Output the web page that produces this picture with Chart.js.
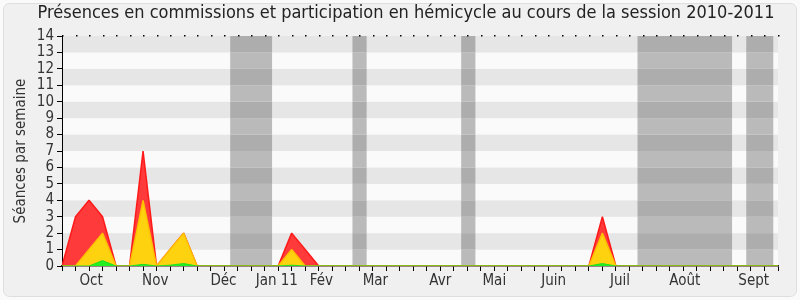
<!DOCTYPE html>
<html>
<head>
<meta charset="utf-8">
<script src="https://cdn.jsdelivr.net/npm/chart.js@4/dist/chart.umd.min.js"></script>
<style>
  html, body { margin: 0; padding: 0; background: #fafafa; }
  #wrap { width: 800px; height: 300px; }
</style>
</head>
<body>
<div id="wrap"><canvas id="chart" width="800" height="300"></canvas></div>
<script>
// Weekly activity, session 2010-2011 (week 0 = first week of the session)
const weekIndex = [
  0, 1, 2, 3, 4, 5, 6, 7, 8, 9, 10, 11, 12, 13, 14, 15, 16, 17,
  18, 19, 20, 21, 22, 23, 24, 25, 26, 27, 28, 29, 30, 31, 32, 33, 34, 35,
  36, 37, 38, 39, 40, 41, 42, 43, 44, 45, 46, 47, 48, 49, 50, 51, 52, 53
];

// Présences en commission (red)
const presences = [
  0, 3, 4, 3, 0, 0, 7, 0, 1, 2, 0, 0, 0, 0, 0, 0, 0, 2,
  1, 0, 0, 0, 0, 0, 0, 0, 0, 0, 0, 0, 0, 0, 0, 0, 0, 0,
  0, 0, 0, 0, 3, 0, 0, 0, 0, 0, 0, 0, 0, 0, 0, 0, 0, 0
];

// Participation en commission (yellow)
const participations = [
  0, 0, 1, 2, 0, 0, 4, 0, 1, 2, 0, 0, 0, 0, 0, 0, 0, 1,
  0, 0, 0, 0, 0, 0, 0, 0, 0, 0, 0, 0, 0, 0, 0, 0, 0, 0,
  0, 0, 0, 0, 2, 0, 0, 0, 0, 0, 0, 0, 0, 0, 0, 0, 0, 0
];

// Participation en hémicycle (green)
const hemicycle = [
  0, 0, 0, 0.33, 0, 0, 0.1, 0, 0.05, 0.15, 0, 0, 0, 0, 0, 0, 0, 0.05,
  0, 0, 0, 0, 0, 0, 0, 0, 0, 0, 0, 0, 0, 0, 0, 0, 0, 0,
  0, 0, 0, 0, 0.15, 0, 0, 0, 0, 0, 0, 0, 0, 0, 0, 0, 0, 0
];

// Month labels and where they sit on the week axis
const monthLabels = ['Oct', 'Nov', 'Déc', 'Jan 11', 'Fév', 'Mar', 'Avr', 'Mai', 'Juin', 'Juil', 'Août', 'Sept'];
const monthPositions = [2.15, 6.9, 11.95, 15.9, 19.2, 23.2, 28.0, 32.0, 36.4, 41.3, 46.1, 51.2];

// Parliamentary recess periods, in weeks
const recessStart = [12.45, 21.5, 29.55, 42.6, 50.65];
const recessEnd   = [15.55, 22.55, 30.6, 49.6, 52.65];

const yTicks = [0, 1, 2, 3, 4, 5, 6, 7, 8, 9, 10, 11, 12, 13, 14];

const FONT = 'DejaVu Sans Condensed, DejaVu Sans, sans-serif';

const toPoints = arr => arr.map((v, i) => ({ x: weekIndex[i], y: v }));

const backdrop = {
  id: 'backdrop',
  beforeDraw(chart) {
    const { ctx, chartArea: a, scales: { x, y } } = chart;
    ctx.save();
    // panel
    ctx.beginPath();
    ctx.roundRect(3.5, 3.5, 793, 293, 6);
    ctx.fillStyle = '#f0f0f0';
    ctx.fill();
    ctx.strokeStyle = '#dedede';
    ctx.lineWidth = 1;
    ctx.stroke();
    // horizontal stripes
    for (let k = 0; k < yTicks.length - 1; k++) {
      const top = y.getPixelForValue(yTicks[k + 1]);
      const bot = y.getPixelForValue(yTicks[k]);
      ctx.fillStyle = k % 2 === 1 ? '#e6e6e6' : '#fafafa';
      ctx.fillRect(a.left, top, a.right - a.left, bot - top);
    }
    // recess bands
    for (let r = 0; r < recessStart.length; r++) {
      const x0 = x.getPixelForValue(recessStart[r]);
      const x1 = x.getPixelForValue(recessEnd[r]);
      for (let k = 0; k < yTicks.length - 1; k++) {
        const top = y.getPixelForValue(yTicks[k + 1]);
        const bot = y.getPixelForValue(yTicks[k]);
        ctx.fillStyle = k % 2 === 1 ? '#adadad' : '#bababa';
        ctx.fillRect(x0, top, x1 - x0, bot - top);
      }
    }
    ctx.restore();
  },
  afterDraw(chart) {
    const { ctx, chartArea: a, scales: { x } } = chart;
    ctx.save();
    ctx.fillStyle = '#000';
    for (const w of weekIndex) {
      const px = Math.round(x.getPixelForValue(w));
      ctx.fillRect(px, a.top - 1, 1.5, 1.5);
    }
    ctx.restore();
  }
};

new Chart(document.getElementById('chart'), {
  type: 'line',
  data: {
    datasets: [
      {
        label: 'Présences en commission',
        data: toPoints(presences),
        borderColor: '#ff1a1a',
        backgroundColor: '#ff3a3a',
        fill: 'origin',
        borderWidth: 1.5,
        borderJoinStyle: 'bevel',
        pointRadius: 0,
        tension: 0,
        order: 3
      },
      {
        label: 'Participation en commission',
        data: toPoints(participations),
        borderColor: '#ffc000',
        backgroundColor: '#ffd20f',
        fill: 'origin',
        borderWidth: 1.5,
        borderJoinStyle: 'bevel',
        pointRadius: 0,
        tension: 0,
        order: 2
      },
      {
        label: 'Participation en hémicycle',
        data: toPoints(hemicycle),
        borderColor: '#22dd22',
        backgroundColor: '#22f022',
        fill: 'origin',
        borderWidth: 1,
        borderJoinStyle: 'bevel',
        pointRadius: 0,
        tension: 0,
        order: 1
      }
    ]
  },
  options: {
    responsive: false,
    animation: false,
    layout: { padding: { top: 0, right: 0, bottom: 0, left: 12 } },
    plugins: {
      legend: { display: false },
      tooltip: { enabled: false },
      title: {
        display: true,
        text: 'Présences en commissions et participation en hémicycle au cours de la session 2010-2011',
        color: '#222',
        font: { family: FONT, size: 18, weight: 'normal', lineHeight: 1.2 },
        padding: { top: 3, bottom: 11.4 }
      }
    },
    scales: {
      x: {
        type: 'linear',
        min: weekIndex[0],
        max: weekIndex[weekIndex.length - 1],
        afterBuildTicks(scale) {
          scale.ticks = weekIndex.map(v => ({ value: v }))
            .concat(monthPositions.map(v => ({ value: v })));
        },
        afterFit(scale) { scale.height = 34; },
        ticks: {
          autoSkip: false,
          maxRotation: 0,
          minRotation: 0,
          padding: 1,
          color: '#333',
          font: { family: FONT, size: 15 },
          callback: (value, index) => index >= weekIndex.length ? monthLabels[index - weekIndex.length] : ''
        },
        grid: {
          drawOnChartArea: false,
          drawTicks: true,
          tickLength: 5,
          tickColor: ctx => ctx.index < weekIndex.length ? '#000' : 'rgba(0,0,0,0)',
          color: ctx => ctx.index < weekIndex.length ? '#000' : 'rgba(0,0,0,0)'
        },
        border: { display: true, color: '#3a1a1a', width: 1.5 }
      },
      y: {
        type: 'linear',
        min: yTicks[0],
        max: yTicks[yTicks.length - 1],
        afterBuildTicks(scale) { scale.ticks = yTicks.map(v => ({ value: v })); },
        afterFit(scale) { scale.width = 50; },
        ticks: {
          autoSkip: false,
          color: '#333',
          padding: 3,
          font: { family: FONT, size: 15 }
        },
        grid: {
          drawOnChartArea: false,
          drawTicks: true,
          tickLength: 5,
          color: '#000',
          tickColor: '#000'
        },
        border: { display: true, color: '#000', width: 1 },
        title: {
          display: true,
          text: 'Séances par semaine',
          color: '#333',
          font: { family: FONT, size: 15 },
          padding: { top: 0, bottom: 0 }
        }
      },
      // empty margin on the right of the plot
      yRight: {
        type: 'linear',
        position: 'right',
        min: 0,
        max: 1,
        afterFit(scale) { scale.width = 22; },
        ticks: { display: false },
        grid: { display: false, drawTicks: false },
        border: { display: false },
        title: { display: false }
      }
    }
  },
  plugins: [backdrop]
});
</script>
</body>
</html>
